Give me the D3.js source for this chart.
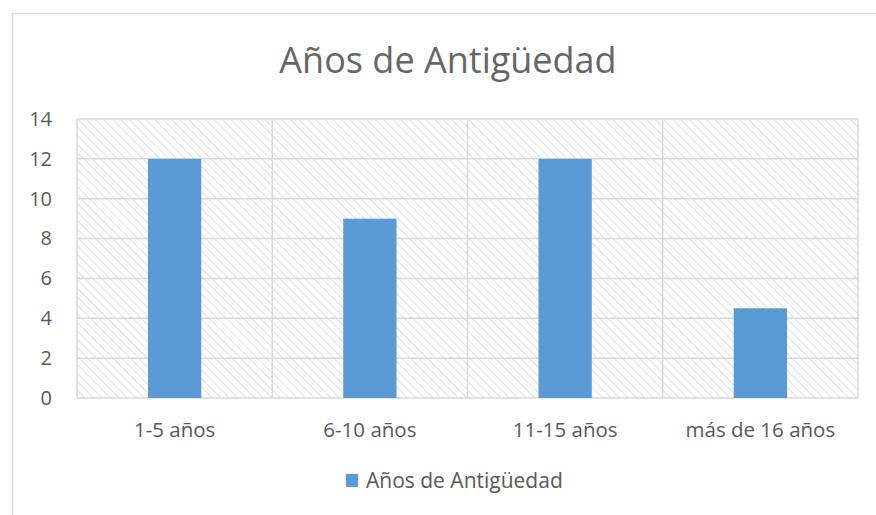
<!DOCTYPE html>
<html>
<head>
<meta charset="utf-8">
<script src="https://cdn.jsdelivr.net/npm/d3@7"></script>
<style>
  body { margin: 0; background: #fff; }
  text { font-family: "Open Sans", "Liberation Sans", sans-serif; fill: #595959; }
</style>
</head>
<body>
<div id="chart"></div>
<script>
  //Chart data
  let categories = ["1-5 años", "6-10 años", "11-15 años", "más de 16 años"];
  let values = [12, 9, 12, 4.5];
  let yTicks = [0, 2, 4, 6, 8, 10, 12, 14];
  let seriesName = "Años de Antigüedad";
  let title = "Años de Antigüedad";

  let width = 876, height = 515;
  let margin = {top: 119, right: 18, bottom: 117, left: 77};
  let plotW = width - margin.left - margin.right;
  let plotH = height - margin.top - margin.bottom;

  let svg = d3.select("#chart").append("svg")
    .attr("width", width)
    .attr("height", height);

  //Hatch pattern for the plot background
  let defs = svg.append("defs");
  let pat = defs.append("pattern")
    .attr("id", "hatch")
    .attr("patternUnits", "userSpaceOnUse")
    .attr("width", 6)
    .attr("height", 6)
    .attr("patternTransform", "rotate(-45)");
  pat.append("rect").attr("width", 6).attr("height", 6).attr("fill", "#fff");
  pat.append("line")
    .attr("x1", 0).attr("y1", 0).attr("x2", 0).attr("y2", 6)
    .attr("stroke", "#dedede")
    .attr("stroke-width", 1.8);

  //Outer chart border
  svg.append("rect")
    .attr("x", 12.5).attr("y", 13.5)
    .attr("width", 880).attr("height", 520)
    .attr("fill", "none")
    .attr("stroke", "#d9d9d9")
    .attr("stroke-width", 1.5);

  //Title
  svg.append("text")
    .attr("x", 448).attr("y", 63)
    .attr("text-anchor", "middle")
    .attr("dominant-baseline", "middle")
    .style("font-size", "36px")
    .style("fill", "#666")
    .text(title);

  let g = svg.append("g")
    .attr("transform", "translate(" + margin.left + "," + margin.top + ")");

  let x = d3.scaleBand().domain(categories).range([0, plotW]).paddingInner(0).paddingOuter(0);
  let y = d3.scaleLinear().domain([0, 14]).range([plotH, 0]);

  g.append("rect")
    .attr("width", plotW).attr("height", plotH)
    .attr("fill", "url(#hatch)");

  //Horizontal gridlines
  g.selectAll(".hgrid")
    .data(yTicks)
    .enter()
    .append("line")
      .attr("class", "hgrid")
      .attr("x1", 0).attr("x2", plotW)
      .attr("y1", function(d) { return y(d); })
      .attr("y2", function(d) { return y(d); })
      .attr("stroke", "#d9d9d9")
      .attr("stroke-width", 1.5);

  //Vertical gridlines at category boundaries
  let bounds = categories.map(function(c) { return x(c); }).concat([plotW]);
  g.selectAll(".vgrid")
    .data(bounds)
    .enter()
    .append("line")
      .attr("class", "vgrid")
      .attr("x1", function(d) { return d; })
      .attr("x2", function(d) { return d; })
      .attr("y1", 0).attr("y2", plotH)
      .attr("stroke", "#d9d9d9")
      .attr("stroke-width", 1.5);

  //Bars
  let barW = x.bandwidth() * 0.273;
  g.selectAll(".bar")
    .data(values)
    .enter()
    .append("rect")
      .attr("class", "bar")
      .attr("x", function(d, i) { return x(categories[i]) + (x.bandwidth() - barW) / 2; })
      .attr("y", function(d) { return y(d); })
      .attr("width", barW)
      .attr("height", function(d) { return plotH - y(d); })
      .attr("fill", "#5b9bd5");

  //Y axis labels
  let yAxis = g.append("g")
    .call(d3.axisLeft(y).tickValues(yTicks).tickSize(0).tickPadding(25));
  yAxis.select(".domain").remove();
  yAxis.selectAll("text")
    .style("font-size", "20px")
    .attr("fill", "#595959");

  //X axis labels
  let xAxis = g.append("g")
    .attr("transform", "translate(0," + plotH + ")")
    .call(d3.axisBottom(x).tickSize(0).tickPadding(24));
  xAxis.select(".domain").remove();
  xAxis.selectAll("text")
    .style("font-size", "20.5px")
    .attr("fill", "#595959");

  //Legend
  let legend = svg.append("g").attr("transform", "translate(346,474)");
  legend.append("rect")
    .attr("width", 12).attr("height", 13)
    .attr("fill", "#5b9bd5");
  legend.append("text")
    .attr("x", 20).attr("y", 8)
    .attr("dominant-baseline", "middle")
    .style("font-size", "21px")
    .text(seriesName);
</script>
</body>
</html>
